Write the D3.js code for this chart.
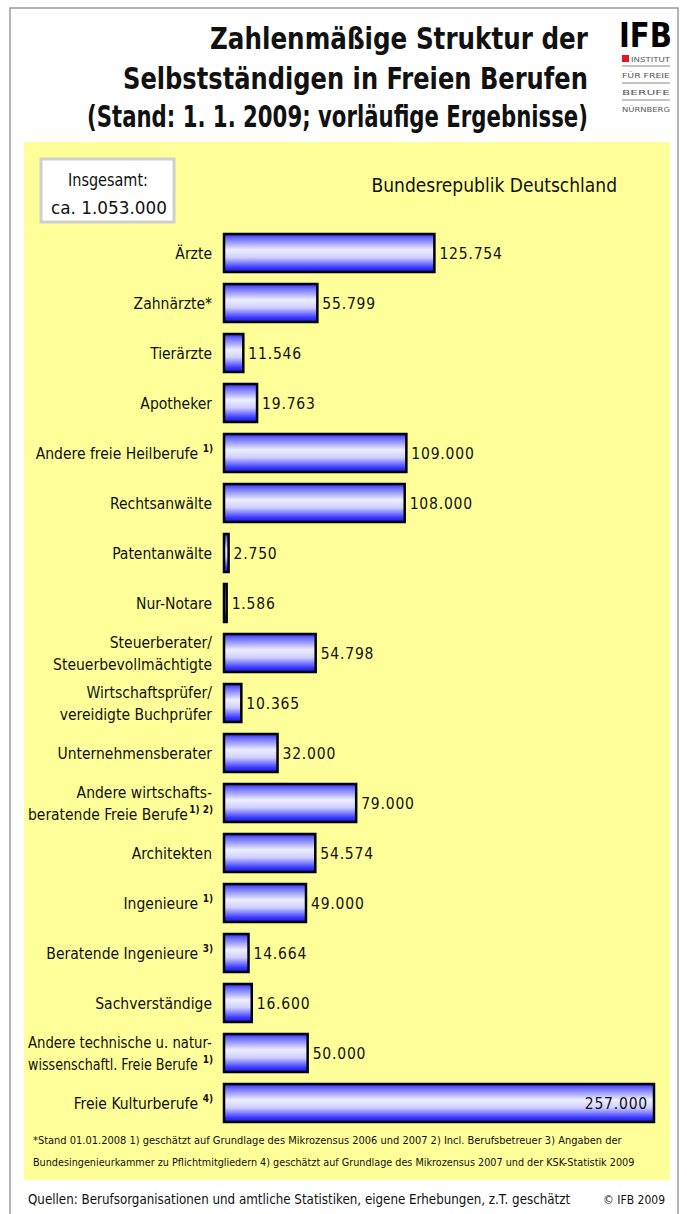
<!DOCTYPE html>
<html><head><meta charset="utf-8">
<script src="https://cdn.jsdelivr.net/npm/d3@7"></script>
<style>body{margin:0;background:#fff;} svg{display:block;}</style>
</head><body>
<script>
const categories = [
  ["Ärzte"], ["Zahnärzte*"], ["Tierärzte"], ["Apotheker"],
  ["Andere freie Heilberufe"], ["Rechtsanwälte"], ["Patentanwälte"], ["Nur-Notare"],
  ["Steuerberater/", "Steuerbevollmächtigte"], ["Wirtschaftsprüfer/", "vereidigte Buchprüfer"],
  ["Unternehmensberater"], ["Andere wirtschafts-", "beratende Freie Berufe"],
  ["Architekten"], ["Ingenieure"], ["Beratende Ingenieure"], ["Sachverständige"],
  ["Andere technische u. natur-", "wissenschaftl. Freie Berufe"], ["Freie Kulturberufe"]
];
const footnoteMarks = ["", "", "", "", "1)", "", "", "", "", "", "", "1) 2)", "", "1)", "3)", "", "1)", "4)"];
const values = [125754, 55799, 11546, 19763, 109000, 108000, 2750, 1586, 54798, 10365, 32000, 79000, 54574, 49000, 14664, 16600, 50000, 257000];
const valueLabels = ["125.754","55.799","11.546","19.763","109.000","108.000","2.750","1.586","54.798","10.365","32.000","79.000","54.574","49.000","14.664","16.600","50.000","257.000"];
const titleLines = ["Zahlenmäßige Struktur der", "Selbstständigen in Freien Berufen", "(Stand: 1. 1. 2009; vorläufige Ergebnisse)"];
const totalLines = ["Insgesamt:", "ca. 1.053.000"];
const regionLabel = "Bundesrepublik Deutschland";
const footnotes = ["*Stand 01.01.2008 1) geschätzt auf Grundlage des Mikrozensus 2006 und 2007  2) Incl. Berufsbetreuer  3) Angaben der",
  "Bundesingenieurkammer zu Pflichtmitgliedern 4) geschätzt auf Grundlage des Mikrozensus 2007 und der KSK-Statistik 2009"];
const sourceText = "Quellen: Berufsorganisationen und amtliche Statistiken, eigene Erhebungen, z.T. geschätzt";
const copyright = "© IFB 2009";

const W = 687, H = 1214;
const FONT = "'DejaVu Sans Condensed', 'Liberation Sans Narrow', sans-serif";
const svg = d3.select("body").append("svg").attr("width", W).attr("height", H).style("font-family", FONT);

// helper: place text starting at x1 and horizontally scaled to width
function fit(parent, str, x1, y, width, attrs) {
  const t = parent.append("text").attr("x", 0).attr("y", 0).text(str);
  Object.entries(attrs || {}).forEach(([k, v]) => t.attr(k, v));
  const w = t.node().getComputedTextLength();
  t.attr("transform", `translate(${x1},${y}) scale(${width / w},1)`);
  return t;
}

// outer frame
svg.append("rect").attr("x", 10).attr("y", 8).attr("width", 668).attr("height", 1220)
  .attr("fill", "#fff").attr("stroke", "#9a9a9a").attr("stroke-width", 1.5);

// title
const tl = [{x1:210, y:49}, {x1:123, y:89}, {x1:87, y:127}];
titleLines.forEach((d, i) => fit(svg, d, tl[i].x1, tl[i].y, 588 - tl[i].x1,
  {"font-size": 30, "font-weight": "bold", "fill": "#111"}));

// logo
const logo = svg.append("g");
fit(logo, "IFB", 619, 47, 53, {"font-size": 34, "font-weight": "bold", "fill": "#000"});
logo.append("rect").attr("x", 622).attr("y", 55).attr("width", 7).attr("height", 7).attr("fill", "#e8141e");
const logoLines = [{t:"INSTITUT", x:631, y:62, w:39}, {t:"FÜR FREIE", x:622, y:78, w:48}, {t:"BERUFE", x:622, y:95, w:48}, {t:"NÜRNBERG", x:622, y:112, w:48}];
logoLines.forEach(l => fit(logo, l.t, l.x, l.y, l.w, {"font-size": 7, "fill": "#555"}));
[66, 83, 100].forEach(y => logo.append("line").attr("x1", 622).attr("x2", 670).attr("y1", y).attr("y2", y).attr("stroke", "#888").attr("stroke-width", 1));

// yellow panel
svg.append("rect").attr("x", 24).attr("y", 142).attr("width", 646).attr("height", 1038).attr("fill", "#ffff99");

// total box
svg.append("rect").attr("x", 41).attr("y", 159).attr("width", 133).attr("height", 63)
  .attr("fill", "#fff").attr("stroke", "#cfcfcf").attr("stroke-width", 3);
fit(svg, totalLines[0], 68, 186, 80, {"font-size": 17, "fill": "#111"});
fit(svg, totalLines[1], 51, 214, 116, {"font-size": 17, "fill": "#111"});

svg.append("text").attr("x", 617).attr("y", 192).attr("text-anchor", "end")
  .attr("font-size", 19).attr("fill", "#111").text(regionLabel);

// gradient
const defs = svg.append("defs");
const g = defs.append("linearGradient").attr("id", "barGrad").attr("x1", 0).attr("x2", 0).attr("y1", 0).attr("y2", 1);
[[0, "#2a2aff"], [0.12, "#7070ff"], [0.42, "#eeeeff"], [0.62, "#cfcfff"], [0.88, "#3c3cff"], [1, "#1414e8"]]
  .forEach(([o, c]) => g.append("stop").attr("offset", o).attr("stop-color", c));

// scales
const idx = d3.range(categories.length);
const y = d3.scaleBand().domain(idx).range([228, 1128]).paddingInner(0.24).paddingOuter(0.12);
const x = d3.scaleLinear().domain([0, 257000]).range([224, 654]);

const rows = svg.append("g").selectAll("g.row").data(idx).join("g").attr("class", "row");

rows.append("rect")
  .attr("x", x(0)).attr("y", i => y(i))
  .attr("width", i => Math.max(x(values[i]) - x(0), 1)).attr("height", y.bandwidth())
  .attr("fill", "url(#barGrad)").attr("stroke", "#000").attr("stroke-width", 2.5);

rows.append("text")
  .attr("x", i => i === categories.length - 1 ? x(values[i]) - 6 : x(values[i]) + 5)
  .attr("y", i => y(i) + y.bandwidth() / 2)
  .attr("dy", "0.36em").attr("text-anchor", i => i === categories.length - 1 ? "end" : "start")
  .attr("font-size", 15.5).attr("letter-spacing", 0.8).attr("fill", "#111")
  .text(i => valueLabels[i]);

// category labels
const LEFT_LIMIT = 28;
rows.each(function(i) {
  const lines = categories[i];
  const cy = y(i) + y.bandwidth() / 2;
  const lh = 22;
  const mark = footnoteMarks[i];
  lines.forEach((ln, k) => {
    const ty = cy + (k - (lines.length - 1) / 2) * lh;
    const isLast = k === lines.length - 1;
    const right = mark && isLast ? 212 - (mark.length > 2 ? 24 : 14) : 212;
    const t = d3.select(this).append("text").attr("font-size", 15.5).attr("fill", "#111")
      .attr("x", 0).attr("y", 0).attr("dy", "0.36em").text(ln);
    const w = t.node().getComputedTextLength();
    const avail = right - LEFT_LIMIT;
    const s = w > avail ? avail / w : 1;
    t.attr("transform", `translate(${right - w * s},${ty}) scale(${s},1)`);
    if (isLast && mark) {
      d3.select(this).append("text").attr("x", 213).attr("y", ty - 5).attr("dy", "0.36em").attr("text-anchor", "end")
        .attr("font-size", 10).attr("font-weight", "bold").attr("fill", "#111").text(mark);
    }
  });
});

// footnotes
footnotes.forEach((d, i) => fit(svg, d, 33, 1144 + i * 22, i === 0 ? 589 : 602, {"font-size": 10.5, "fill": "#111"}));

fit(svg, sourceText, 28, 1204, 543, {"font-size": 13.5, "fill": "#111"});
svg.append("text").attr("x", 665).attr("y", 1204).attr("text-anchor", "end").attr("font-size", 12).attr("fill", "#111").text(copyright);
</script>
</body></html>
